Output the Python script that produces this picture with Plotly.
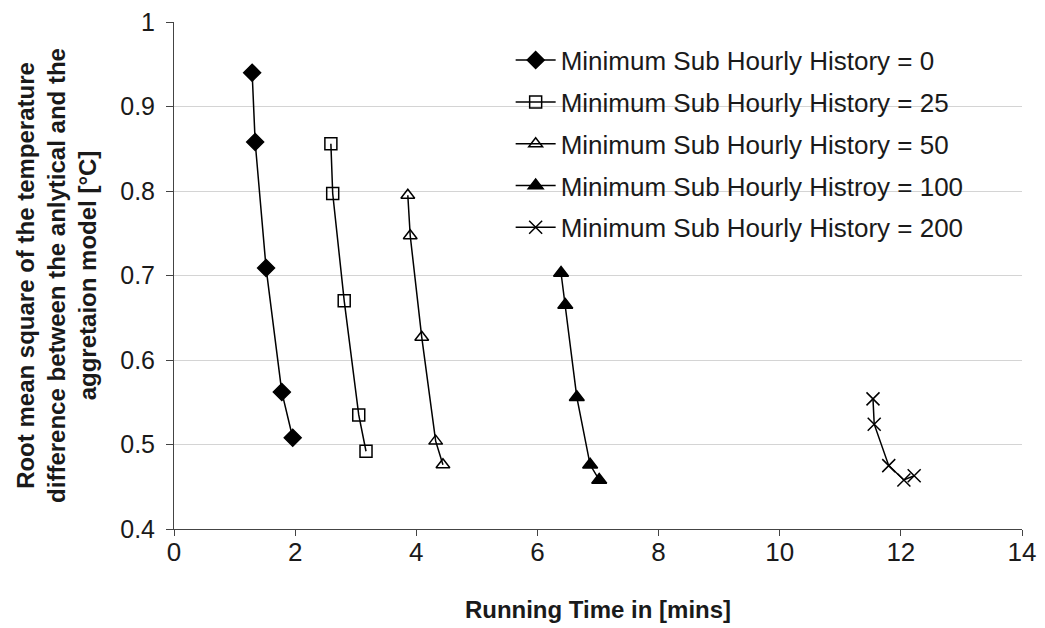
import plotly.graph_objects as go

names = [
    "Minimum Sub Hourly History = 0",
    "Minimum Sub Hourly History = 25",
    "Minimum Sub Hourly History = 50",
    "Minimum Sub Hourly Histroy = 100",
    "Minimum Sub Hourly History = 200",
]
x_h0 = [1.29, 1.34, 1.52, 1.78, 1.96]
y_h0 = [0.940, 0.858, 0.709, 0.562, 0.508]
x_h25 = [2.59, 2.62, 2.81, 3.05, 3.17]
y_h25 = [0.856, 0.797, 0.670, 0.535, 0.492]
x_h50 = [3.86, 3.90, 4.09, 4.32, 4.44]
y_h50 = [0.795, 0.747, 0.627, 0.504, 0.476]
x_h100 = [6.39, 6.46, 6.65, 6.87, 7.02]
y_h100 = [0.703, 0.665, 0.556, 0.476, 0.458]
x_h200 = [11.54, 11.56, 11.80, 12.05, 12.22]
y_h200 = [0.554, 0.524, 0.475, 0.458, 0.463]

y_ticks = [0.4, 0.5, 0.6, 0.7, 0.8, 0.9, 1.0]
y_ticktext = ["0.4", "0.5", "0.6", "0.7", "0.8", "0.9", "1"]

xs = [x_h0, x_h25, x_h50, x_h100, x_h200]
ys = [y_h0, y_h25, y_h50, y_h100, y_h200]
symbols = ["diamond", "square-open", "triangle-up-open", "triangle-up", "x-thin-open"]
sizes = [13, 12, 12, 13, 13]

fig = go.Figure()
for i, (n, x, y, s, sz) in enumerate(zip(names, xs, ys, symbols, sizes)):
    fig.add_trace(go.Scatter(
        x=x, y=y, name=n, mode="lines+markers", legendgroup=f"g{i}",
        line=dict(color="black", width=1.5),
        marker=dict(symbol=s, size=sz, color="black", line=dict(color="black", width=1.5)),
    ))

fig.update_layout(
    width=1045, height=628,
    margin=dict(l=174, r=23, t=22, b=99, autoexpand=False),
    paper_bgcolor="white", plot_bgcolor="white",
    font=dict(family="Liberation Sans, Arial, sans-serif", color="#1a1a1a", size=20),
    showlegend=True,
    legend=dict(x=0.397, y=0.971, xanchor="left", yanchor="top",
                bgcolor="rgba(0,0,0,0)", font=dict(size=26), tracegroupgap=5,
                itemwidth=40),
)
fig.update_xaxes(
    range=[0, 14], dtick=2, tick0=0, automargin=False,
    showline=True, linecolor="#444", linewidth=1,
    ticks="outside", ticklen=6, tickcolor="#444",
    ticklabelstandoff=-6,
    showgrid=False, zeroline=False,
    tickfont=dict(size=26),
    title=dict(text="<b>Running Time in [mins]</b>", font=dict(size=24), standoff=34),
)
fig.update_yaxes(
    range=[0.4, 1.0], tickvals=y_ticks, ticktext=y_ticktext, automargin=False,
    showline=True, linecolor="#444", linewidth=1,
    ticks="outside", ticklen=7, tickcolor="#444",
    ticklabelstandoff=6,
    showgrid=True, gridcolor="#d4d4d4", gridwidth=1, zeroline=False,
    tickfont=dict(size=25),
    title=dict(text="<b>Root mean square of the temperature<br>difference between the anlytical and the<br>aggretaion model [°C]</b>",
               font=dict(size=24), standoff=16),
)

fig.write_html("out.html")
